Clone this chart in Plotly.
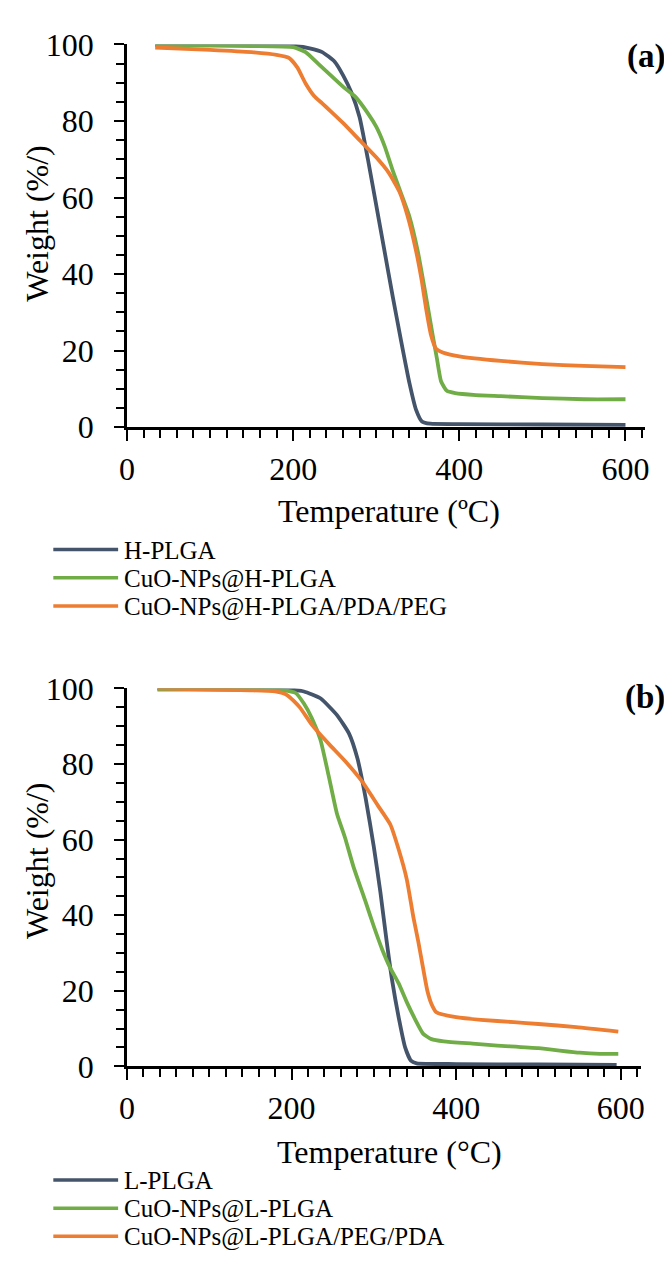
import plotly.graph_objects as go

# ---------------- data: panel (a) ----------------
a_h_plga_T = [34, 100, 150, 180, 200, 220, 235, 250, 260, 270, 280, 290, 300, 310, 320, 330, 340, 348, 355, 365, 400, 500, 600]
a_h_plga_W = [99.9, 100, 100, 99.9, 99.7, 99.0, 98.0, 95.5, 92.0, 87.5, 81.0, 70.0, 58.0, 46.0, 34.0, 22.5, 11.5, 4.5, 1.5, 0.9, 0.8, 0.7, 0.6]

a_cuo_T = [34, 100, 150, 200, 215, 230, 245, 260, 275, 290, 300, 310, 320, 330, 340, 350, 360, 368, 373, 378, 385, 395, 420, 450, 500, 550, 600]
a_cuo_W = [99.8, 99.7, 99.6, 99.3, 98.0, 95.0, 92.0, 89.0, 86.3, 82.0, 78.5, 73.5, 67.0, 61.0, 55.0, 46.0, 34.0, 24.0, 18.0, 12.0, 9.5, 8.9, 8.4, 8.1, 7.6, 7.3, 7.3]

a_pda_T = [34, 100, 150, 180, 195, 205, 215, 225, 235, 245, 260, 280, 300, 315, 328, 338, 348, 355, 360, 366, 372, 380, 400, 450, 500, 550, 600]
a_pda_W = [99.2, 98.6, 98.0, 97.3, 96.5, 94.0, 89.8, 86.6, 84.6, 82.6, 79.5, 75.0, 70.5, 66.5, 61.5, 55.0, 46.0, 38.0, 31.0, 24.0, 20.5, 19.5, 18.5, 17.3, 16.5, 16.0, 15.7]

# ---------------- data: panel (b) ----------------
b_l_plga_T = [37, 100, 150, 180, 200, 215, 235, 255, 270, 280, 290, 300, 308, 315, 322, 331, 338, 345, 352, 400, 500, 595]
b_l_plga_W = [100, 100, 100, 99.9, 99.7, 99.2, 97.4, 93.0, 88.0, 81.5, 71.0, 58.0, 46.0, 34.0, 23.0, 12.0, 5.0, 1.5, 0.8, 0.6, 0.5, 0.4]

b_cuo_T = [37, 100, 150, 190, 205, 215, 225, 235, 245, 255, 265, 275, 290, 300, 310, 320, 330, 340, 350, 360, 370, 385, 420, 450, 500, 550, 575, 597]
b_cuo_W = [99.7, 99.7, 99.6, 99.5, 98.8, 96.0, 92.0, 86.5, 77.0, 67.0, 60.5, 53.0, 43.5, 37.0, 31.0, 26.0, 22.0, 17.0, 12.5, 8.6, 7.2, 6.6, 6.0, 5.5, 4.8, 3.6, 3.3, 3.3]

b_peg_T = [37, 100, 150, 180, 195, 210, 225, 245, 265, 285, 305, 320, 330, 340, 348, 354, 359, 365, 370, 376, 400, 430, 470, 500, 546, 597]
b_peg_W = [100, 99.7, 99.5, 99.2, 98.2, 95.0, 90.3, 85.4, 80.8, 75.6, 69.0, 64.0, 57.5, 49.5, 39.5, 33.0, 27.0, 20.0, 16.5, 14.3, 13.0, 12.3, 11.7, 11.2, 10.4, 9.2]

names_a = ["H-PLGA", "CuO-NPs@H-PLGA", "CuO-NPs@H-PLGA/PDA/PEG"]
names_b = ["L-PLGA", "CuO-NPs@L-PLGA", "CuO-NPs@L-PLGA/PEG/PDA"]
colors = ["#44546A", "#70AD47", "#ED7D31"]

x_ticks = [0, 200, 400, 600]
y_ticks = [0, 20, 40, 60, 80, 100]

# ---------------- figure ----------------
# the page body has an 8px default margin, so the figure is sized/offset for it
OFF = 8
W, H = 672 - OFF, 1265 - OFF
FONT = "Times New Roman, Liberation Serif, serif"


def px_x(p):
    return (p - OFF) / W


def px_y(p):
    return 1 - (p - OFF) / H


fig = go.Figure()

series_a = [(a_h_plga_T, a_h_plga_W), (a_cuo_T, a_cuo_W), (a_pda_T, a_pda_W)]
series_b = [(b_l_plga_T, b_l_plga_W), (b_cuo_T, b_cuo_W), (b_peg_T, b_peg_W)]

for (t, w), n, c in zip(series_a, names_a, colors):
    fig.add_trace(go.Scatter(x=t, y=w, name=n, mode="lines",
                             line=dict(color=c, width=3.8, shape="spline", smoothing=0.5),
                             xaxis="x", yaxis="y", showlegend=False))
for (t, w), n, c in zip(series_b, names_b, colors):
    fig.add_trace(go.Scatter(x=t, y=w, name=n, mode="lines",
                             line=dict(color=c, width=3.8, shape="spline", smoothing=0.5),
                             xaxis="x2", yaxis="y2", showlegend=False))

common_x = dict(range=[0, 624], tickvals=x_ticks, ticks="outside", ticklen=11, tickwidth=2,
                tickcolor="black", showline=True, linecolor="black", linewidth=2.5,
                showgrid=False, zeroline=False, ticklabelstandoff=1,
                tickfont=dict(family=FONT, size=32, color="black"),
                minor=dict(dtick=20, ticks="outside", ticklen=8, tickwidth=2, tickcolor="black", showgrid=False))
common_y = dict(range=[0, 100], tickvals=y_ticks, ticks="outside", ticklen=10, tickwidth=2,
                tickcolor="black", showline=True, linecolor="black", linewidth=2.5,
                showgrid=False, zeroline=False, ticklabelstandoff=14,
                tickfont=dict(family=FONT, size=32, color="black"),
                minor=dict(dtick=5, ticks="outside", ticklen=8, tickwidth=2, tickcolor="black", showgrid=False))

fig.update_layout(
    width=W, height=H,
    margin=dict(l=0, r=0, t=0, b=0),
    paper_bgcolor="white", plot_bgcolor="white",
    showlegend=False,
    xaxis=dict(domain=[px_x(121), px_x(649)], anchor="y", **common_x),
    yaxis=dict(domain=[px_y(421), px_y(27)], anchor="x", **common_y),
    xaxis2=dict(domain=[px_x(121), px_x(644)], anchor="y2", **common_x),
    yaxis2=dict(domain=[px_y(1079), px_y(690)], anchor="x2", **common_y),
)

ann = []
# axis titles
ann.append(dict(text="Temperature (ºC)", x=px_x(388), y=px_y(507), xref="paper", yref="paper",
                xanchor="center", yanchor="middle", showarrow=False,
                font=dict(family=FONT, size=32, color="black")))
ann.append(dict(text="Weight (%/)", x=px_x(30), y=px_y(212), xref="paper", yref="paper",
                xanchor="center", yanchor="middle", showarrow=False, textangle=-90,
                font=dict(family=FONT, size=32, color="black")))
ann.append(dict(text="Temperature (°C)", x=px_x(388), y=px_y(1167), xref="paper", yref="paper",
                xanchor="center", yanchor="middle", showarrow=False,
                font=dict(family=FONT, size=32, color="black")))
ann.append(dict(text="Weight (%/)", x=px_x(30), y=px_y(868), xref="paper", yref="paper",
                xanchor="center", yanchor="middle", showarrow=False, textangle=-90,
                font=dict(family=FONT, size=32, color="black")))
# panel labels
ann.append(dict(text="<b>(a)</b>", x=px_x(671), y=px_y(39), xref="paper", yref="paper",
                xanchor="right", yanchor="middle", showarrow=False,
                font=dict(family=FONT, size=33, color="black")))
ann.append(dict(text="<b>(b)</b>", x=px_x(671), y=px_y(699), xref="paper", yref="paper",
                xanchor="right", yanchor="middle", showarrow=False,
                font=dict(family=FONT, size=33, color="black")))

shapes = []
rows_a = [547, 576, 605]
rows_b = [1196, 1225, 1254]
for names, rows in ((names_a, rows_a), (names_b, rows_b)):
    for n, c, r in zip(names, colors, rows):
        shapes.append(dict(type="line", xref="paper", yref="paper",
                           x0=px_x(46), x1=px_x(112), y0=px_y(r), y1=px_y(r),
                           line=dict(color=c, width=3.5)))
        ann.append(dict(text=n, x=px_x(116), y=px_y(r + 1), xref="paper", yref="paper",
                        xanchor="left", yanchor="middle", showarrow=False,
                        font=dict(family=FONT, size=25, color="black")))

fig.update_layout(annotations=ann, shapes=shapes)

fig.write_html("out.html")
